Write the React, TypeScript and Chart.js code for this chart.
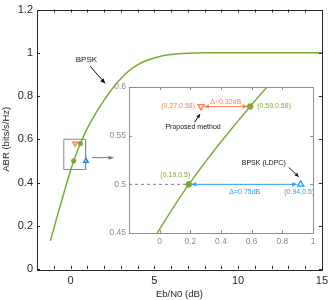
import React, { useEffect, useRef } from "react";
import { Chart, registerables } from "chart.js";

Chart.register(...registerables);

// ---- data ----
const curveEb = [-1.2, -0.8, -0.4, 0, 0.19, 0.59, 1, 1.5, 2, 2.5, 3, 3.5, 4, 4.5, 5, 5.5, 6, 7, 8, 9, 10, 12, 15];
const curveAbr = [0.13, 0.242, 0.35, 0.454, 0.5, 0.58, 0.65, 0.72, 0.78, 0.835, 0.88, 0.917, 0.944, 0.963, 0.976, 0.986, 0.992, 0.998, 1, 1, 1, 1, 1];

const proposedPt = [0.27, 0.58];
const bpskPtsX = [0.19, 0.59];
const bpskPtsY = [0.5, 0.58];
const ldpcPt = [0.92, 0.5];

const zoomBoxX = [-0.4, 0.9];
const zoomBoxY = [0.46, 0.6];

const mainXLabels = [0, 5, 10, 15];
const mainXMinor = [-1, 0, 1, 2, 3, 4, 5, 6, 7, 8, 9, 10, 11, 12, 13, 14];
const mainYTicks = [0, 0.2, 0.4, 0.6, 0.8, 1, 1.2];
const insetXTicks = [0, 0.2, 0.4, 0.6, 0.8, 1];
const insetYTicks = [0.45, 0.5, 0.55, 0.6];

// ---- styles ----
const GREEN = "#77ac30";
const ORANGE = "#ff7f50";
const BLUE = "#2b9ef0";
const AXIS = "#262626";
const INSET_AXIS = "#8f8f8f";
const FONT = "'Liberation Sans', Arial, sans-serif";

Chart.defaults.font.family = FONT;

function arrowHead(ctx: CanvasRenderingContext2D, x1: number, y1: number, x2: number, y2: number, len: number, half: number) {
  const a = Math.atan2(y2 - y1, x2 - x1);
  const c = Math.cos(a), s = Math.sin(a);
  ctx.beginPath();
  ctx.moveTo(x2, y2);
  ctx.lineTo(x2 - len * c + half * s, y2 - len * s - half * c);
  ctx.lineTo(x2 - len * c - half * s, y2 - len * s + half * c);
  ctx.closePath();
  ctx.fill();
}

function arrow(ctx: CanvasRenderingContext2D, x1: number, y1: number, x2: number, y2: number, color: string, both = false, len = 5, half = 2.2) {
  ctx.save();
  ctx.strokeStyle = color;
  ctx.fillStyle = color;
  ctx.lineWidth = 1;
  ctx.beginPath();
  ctx.moveTo(x1, y1);
  ctx.lineTo(x2, y2);
  ctx.stroke();
  arrowHead(ctx, x1, y1, x2, y2, len, half);
  if (both) arrowHead(ctx, x2, y2, x1, y1, len, half);
  ctx.restore();
}

function text(ctx: CanvasRenderingContext2D, s: string, x: number, y: number, color: string, size: number, align: CanvasTextAlign = "center") {
  ctx.save();
  ctx.fillStyle = color;
  ctx.font = `${size}px ${FONT}`;
  ctx.textAlign = align;
  ctx.textBaseline = "middle";
  ctx.fillText(s, x, y);
  ctx.restore();
}

const xy = (xs: number[], ys: number[]) => xs.map((x, i) => ({ x, y: ys[i] }));

export default function App() {
  const mainRef = useRef<HTMLCanvasElement>(null);
  const insetRef = useRef<HTMLCanvasElement>(null);

  useEffect(() => {
    const mainPlugin = {
      id: "mainDecor",
      afterDraw(chart: any) {
        const { ctx, chartArea: a } = chart;
        const X = (v: number) => chart.scales.x.getPixelForValue(v);
        const Y = (v: number) => chart.scales.y.getPixelForValue(v);
        ctx.save();
        ctx.strokeStyle = AXIS;
        ctx.lineWidth = 1;
        ctx.strokeRect(Math.round(a.left) + 0.5, Math.round(a.top) + 0.5, Math.round(a.right - a.left), Math.round(a.bottom - a.top));
        ctx.beginPath();
        for (const v of mainXMinor) {
          const px = Math.round(X(v)) + 0.5;
          ctx.moveTo(px, a.bottom); ctx.lineTo(px, a.bottom - 3);
          ctx.moveTo(px, a.top); ctx.lineTo(px, a.top + 3);
        }
        for (const v of mainYTicks) {
          const py = Math.round(Y(v)) + 0.5;
          ctx.moveTo(a.left, py); ctx.lineTo(a.left + 3, py);
          ctx.moveTo(a.right, py); ctx.lineTo(a.right - 3, py);
        }
        ctx.stroke();
        ctx.restore();
        text(ctx, "BPSK", X(0.95), Y(0.968), "#111", 8);
        arrow(ctx, X(1.17), Y(0.938), X(2.07), Y(0.858), "#111");
        arrow(ctx, X(1.29), Y(0.515), X(2.56), Y(0.515), "#777", false, 5, 2);
      },
    };

    const main = new Chart(mainRef.current!, {
      type: "scatter",
      data: {
        datasets: [
          {
            data: [{ x: proposedPt[0], y: proposedPt[1] }],
            pointStyle: "triangle", rotation: 180, pointRadius: 2.8,
            borderColor: ORANGE, backgroundColor: "#ffd9c9", borderWidth: 1.2,
          },
          {
            data: [{ x: ldpcPt[0], y: ldpcPt[1] }],
            pointStyle: "triangle", pointRadius: 2.8,
            borderColor: "#1f78d1", backgroundColor: "#9fd0f7", borderWidth: 1.2,
          },
          {
            data: xy(bpskPtsX, bpskPtsY),
            pointStyle: "circle", pointRadius: 2.2,
            borderColor: GREEN, backgroundColor: GREEN, borderWidth: 1,
          },
          {
            data: xy(curveEb, curveAbr),
            showLine: true, pointRadius: 0, borderColor: GREEN, borderWidth: 1.5,
            cubicInterpolationMode: "monotone",
          },
          {
            data: xy([zoomBoxX[0], zoomBoxX[0], zoomBoxX[1], zoomBoxX[1], zoomBoxX[0]], [zoomBoxY[0], zoomBoxY[1], zoomBoxY[1], zoomBoxY[0], zoomBoxY[0]]),
            showLine: true, pointRadius: 0, borderColor: "#8c8c8c", borderWidth: 1, tension: 0,
          },
        ],
      } as any,
      options: {
        animation: false,
        responsive: false,
        events: [],
        layout: { padding: { left: 0, right: 8, top: 6, bottom: 0 } },
        plugins: { legend: { display: false }, tooltip: { enabled: false } },
        scales: {
          x: {
            type: "linear", min: -2, max: 15,
            afterFit: (s: any) => { s.height = 31; },
            afterBuildTicks: (s: any) => { s.ticks = mainXLabels.map((v) => ({ value: v })); },
            grid: { display: false, drawTicks: false },
            border: { display: false },
            ticks: { padding: 5, color: AXIS, font: { size: 11 }, autoSkip: false, maxRotation: 0, callback: (v: any) => String(v) },
            title: { display: true, text: "Eb/N0 (dB)", color: AXIS, font: { size: 9.5 }, padding: { top: 0, bottom: 0 } },
          },
          y: {
            type: "linear", min: 0, max: 1.2,
            afterFit: (s: any) => { s.width = 37; },
            afterBuildTicks: (s: any) => { s.ticks = mainYTicks.map((v) => ({ value: v })); },
            grid: { display: false, drawTicks: false },
            border: { display: false },
            ticks: { padding: 4, color: AXIS, font: { size: 11, lineHeight: 1 }, autoSkip: false, callback: (v: any) => String(v) },
            title: { display: true, text: "ABR (bits/s/Hz)", color: AXIS, font: { size: 9.5 }, padding: { top: 1, bottom: 0 } },
          },
        },
      } as any,
      plugins: [mainPlugin],
    });

    const insetPlugin = {
      id: "insetDecor",
      beforeDatasetsDraw(chart: any) {
        const { ctx, chartArea: a } = chart;
        ctx.save();
        ctx.fillStyle = "#ffffff";
        ctx.fillRect(a.left, a.top, a.right - a.left, a.bottom - a.top);
        ctx.restore();
      },
      afterDraw(chart: any) {
        const { ctx, chartArea: a } = chart;
        const X = (v: number) => chart.scales.x.getPixelForValue(v);
        const Y = (v: number) => chart.scales.y.getPixelForValue(v);
        ctx.save();
        ctx.strokeStyle = INSET_AXIS;
        ctx.lineWidth = 1;
        ctx.strokeRect(Math.round(a.left) + 0.5, Math.round(a.top) + 0.5, Math.round(a.right - a.left), Math.round(a.bottom - a.top));
        ctx.beginPath();
        for (const v of insetXTicks) {
          const px = Math.round(X(v)) + 0.5;
          ctx.moveTo(px, a.bottom); ctx.lineTo(px, a.bottom - 3);
          ctx.moveTo(px, a.top); ctx.lineTo(px, a.top + 3);
        }
        for (const v of insetYTicks) {
          const py = Math.round(Y(v)) + 0.5;
          ctx.moveTo(a.left, py); ctx.lineTo(a.left + 3, py);
          ctx.moveTo(a.right, py); ctx.lineTo(a.right - 3, py);
        }
        ctx.stroke();
        ctx.restore();

        const px = X(proposedPt[0]), py = Y(proposedPt[1]);
        const gx = X(bpskPtsX[1]), gy = Y(bpskPtsY[1]);
        const hx = X(bpskPtsX[0]), hy = Y(bpskPtsY[0]);
        const lx = X(ldpcPt[0]), ly = Y(ldpcPt[1]);

        arrow(ctx, px + 3, py, gx - 2.5, gy, ORANGE, true);
        arrow(ctx, hx + 2.5, hy, lx - 3.5, ly, BLUE, true);

        text(ctx, "(0.27,0.58)", px - 6, py, ORANGE, 7, "right");
        text(ctx, "(0.59,0.58)", gx + 7, gy, GREEN, 7, "left");
        text(ctx, "\u0394=0.32dB", (px + gx) / 2, py - 4.5, ORANGE, 7);
        text(ctx, "Proposed method", px - 8, py + 21, "#111", 7);
        arrow(ctx, px - 6.6, py + 16, px - 1, py + 7.5, "#111", false, 4, 1.8);

        text(ctx, "(0.19,0.5)", hx - 13.5, hy - 9, GREEN, 7);
        text(ctx, "\u0394=0.75dB", (hx + lx) / 2, hy + 8, BLUE, 7);
        text(ctx, "(0.94,0.5)", lx - 1.5, ly + 8, BLUE, 7);
        text(ctx, "BPSK (LDPC)", lx - 37, ly - 21, "#111", 7);
        arrow(ctx, lx - 12, ly - 17, lx - 2, ly - 7.5, "#111", false, 4, 1.8);
      },
    };

    const inset = new Chart(insetRef.current!, {
      type: "scatter",
      data: {
        datasets: [
          {
            data: [{ x: proposedPt[0], y: proposedPt[1] }],
            pointStyle: "triangle", rotation: 180, pointRadius: 3.6,
            borderColor: ORANGE, backgroundColor: "#ffe3d8", borderWidth: 1.3,
          },
          {
            data: [{ x: ldpcPt[0], y: ldpcPt[1] }],
            pointStyle: "triangle", pointRadius: 3.6,
            borderColor: BLUE, backgroundColor: "#e3f3fe", borderWidth: 1.3,
          },
          {
            data: xy(bpskPtsX, bpskPtsY),
            pointStyle: "circle", pointRadius: 2.8,
            borderColor: GREEN, backgroundColor: GREEN, borderWidth: 1,
          },
          {
            data: xy(curveEb, curveAbr),
            showLine: true, pointRadius: 0, borderColor: GREEN, borderWidth: 1.4,
            cubicInterpolationMode: "monotone",
          },
          {
            data: xy([-0.2, bpskPtsX[0]], [bpskPtsY[0], bpskPtsY[0]]),
            showLine: true, pointRadius: 0, borderColor: "#808080", borderWidth: 1,
            borderDash: [3, 3],
          },
        ],
      } as any,
      options: {
        animation: false,
        responsive: false,
        events: [],
        layout: { padding: { left: 0, right: 12, top: 9, bottom: 0 } },
        plugins: { legend: { display: false }, tooltip: { enabled: false } },
        scales: {
          x: {
            type: "linear", min: -0.2, max: 1,
            afterFit: (s: any) => { s.height = 20; },
            afterBuildTicks: (s: any) => { s.ticks = insetXTicks.map((v) => ({ value: v })); },
            grid: { display: false, drawTicks: false },
            border: { display: false },
            ticks: { padding: 4, color: "#8c8c8c", font: { size: 8.5 }, autoSkip: false, maxRotation: 0, callback: (v: any) => String(v) },
          },
          y: {
            type: "linear", min: 0.45, max: 0.6,
            afterFit: (s: any) => { s.width = 29; },
            afterBuildTicks: (s: any) => { s.ticks = insetYTicks.map((v) => ({ value: v })); },
            grid: { display: false, drawTicks: false },
            border: { display: false },
            ticks: { padding: 3, color: "#8c8c8c", font: { size: 8.5 }, autoSkip: false, callback: (v: any) => String(v) },
          },
        },
      } as any,
      plugins: [insetPlugin],
    });

    return () => {
      main.destroy();
      inset.destroy();
    };
  }, []);

  return (
    <div style={{ position: "absolute", left: 0, top: 0, width: 333, height: 300, background: "#fff" }}>
      <canvas ref={mainRef} width={333} height={300} style={{ position: "absolute", left: 0, top: 0, width: 333, height: 300 }} />
      <canvas ref={insetRef} width={225} height={175} style={{ position: "absolute", left: 100, top: 78, width: 225, height: 175 }} />
    </div>
  );
}
